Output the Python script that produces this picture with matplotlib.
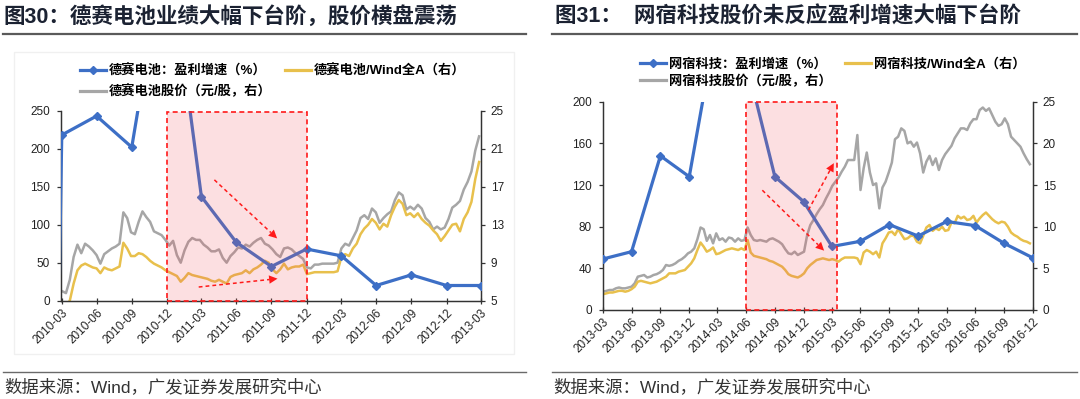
import pandas as pd
import matplotlib
matplotlib.use('Agg')
import matplotlib.pyplot as plt
import matplotlib.transforms as mtrans
from matplotlib.lines import Line2D
from matplotlib.patches import Rectangle
from matplotlib.font_manager import FontProperties

plt.rcParams['font.family'] = ['Liberation Sans', 'Noto Sans CJK SC', 'DejaVu Sans']

# ---------------- 图30 德赛电池 ----------------
left_ticks = ['2010-03', '2010-06', '2010-09', '2010-12', '2011-03', '2011-06', '2011-09',
              '2011-12', '2012-03', '2012-06', '2012-09', '2012-12', '2013-03']
# 盈利增速（%），季度
left_growth_q = ['2009-12'] + left_ticks
left_growth = [-2500, 218, 243, 202, 480, 137, 77, 45, 68, 59, 20, 34, 20, 20]
# 股价 与 相对Wind全A，每10天取一个点，从2010-04-01开始
left_price = [6.0, 5.8, 7.2, 9.6, 10.9, 10.0, 11.0, 10.7, 10.3, 9.8,
              8.9, 9.9, 10.2, 10.5, 10.7, 11.0, 14.3, 13.7, 12.2, 12.0,
              13.3, 14.4, 13.8, 13.3, 12.3, 12.1, 11.9, 11.4, 10.8, 11.3,
              9.8, 9.0, 10.3, 11.2, 11.6, 11.4, 11.4, 10.9, 10.6, 10.2,
              10.2, 10.4, 9.5, 9.0, 9.7, 10.1, 10.6, 10.5, 10.9, 10.7,
              11.1, 11.4, 11.6, 11.0, 10.8, 10.4, 9.9, 9.6, 10.5, 10.6,
              10.4, 10.0, 9.7, 9.4, 8.5, 8.4, 8.8, 8.8, 8.9, 8.9,
              8.9, 8.9, 9.0, 10.5, 11.0, 10.8, 11.6, 12.4, 13.7, 14.0,
              13.6, 14.7, 14.3, 13.2, 13.7, 14.1, 14.4, 15.6, 16.4, 16.1,
              14.6, 14.9, 14.6, 15.1, 14.7, 13.7, 13.3, 12.5, 12.8, 12.5,
              12.7, 13.6, 14.8, 15.1, 15.5, 16.7, 17.5, 18.6, 20.8, 22.3]
left_rel = [4.6, 4.5, 5.0, 6.8, 8.2, 8.7, 8.9, 8.7, 8.5, 8.4,
            7.9, 8.5, 8.3, 8.2, 8.4, 8.6, 11.1, 10.5, 9.7, 9.7,
            10.0, 9.9, 9.6, 9.2, 8.9, 8.7, 8.5, 8.2, 8.0, 7.8,
            7.6, 7.0, 7.4, 7.9, 7.7, 7.6, 7.5, 7.4, 7.3, 7.1,
            7.0, 7.2, 7.0, 6.8, 7.5, 7.7, 7.8, 7.9, 8.2, 7.9,
            8.3, 8.5, 8.8, 9.2, 9.0, 8.3, 7.9, 8.3, 8.9, 8.3,
            8.5, 8.6, 8.6, 8.8, 7.8, 7.9, 8.0, 8.0, 8.0, 8.0,
            8.0, 8.0, 8.1, 9.6, 9.9, 9.7, 10.5, 11.0, 12.0, 12.6,
            13.0, 13.6, 13.2, 12.5, 13.1, 12.8, 14.0, 14.9, 15.6, 15.2,
            14.0, 14.2, 13.8, 14.2, 13.6, 13.2, 12.9, 12.4, 12.0, 11.3,
            11.8, 12.4, 13.0, 13.1, 12.3, 13.6, 14.3, 15.4, 17.8, 19.6]
left_box = ('2010-12-31', '2011-12-31', 248)
left_arrows = [(('2011-05-04', 159), ('2011-10-15', 82)),
               (('2011-03-24', 18), ('2011-10-16', 29))]

# ---------------- 图31 网宿科技 ----------------
right_ticks = ['2013-03', '2013-06', '2013-09', '2013-12', '2014-03', '2014-06', '2014-09',
               '2014-12', '2015-03', '2015-06', '2015-09', '2015-12', '2016-03', '2016-06',
               '2016-09', '2016-12']
right_growth_q = right_ticks
right_growth = [49, 56, 148, 128, 280, 240, 128, 104, 61, 66, 82, 71, 85, 81, 64, 50]
# 每10天取一个点，从2013-04-01开始
right_price = [2.2, 2.3, 2.4, 2.4, 2.6, 2.7, 2.6, 2.6, 2.7, 2.8,
               3.2, 4.0, 4.1, 4.2, 3.9, 4.0, 4.2, 4.3, 4.5, 4.8,
               5.4, 5.3, 5.4, 5.6, 5.9, 6.1, 6.4, 6.8, 7.0, 7.4,
               8.5, 9.9, 9.7, 8.3, 9.0, 8.0, 9.2, 8.4, 8.6, 8.2,
               8.7, 8.6, 8.2, 8.6, 8.3, 8.4, 9.9, 9.0, 8.4, 8.3,
               8.4, 8.3, 8.2, 8.5, 8.6, 8.4, 8.2, 7.9, 7.3, 6.8,
               6.7, 7.0, 6.6, 6.8, 7.0, 9.0, 10.2, 10.8, 11.5, 12.1,
               12.6, 13.4, 14.1, 14.9, 15.4, 15.9, 16.6, 17.2, 18.0, 18.0,
               18.0, 21.0, 14.4, 17.0, 18.9, 16.5, 15.0, 15.2, 12.2, 14.7,
               15.4, 16.5, 17.7, 20.5, 20.8, 21.8, 21.5, 20.0, 20.2, 19.6,
               20.1, 18.8, 16.5, 17.8, 18.5, 17.4, 18.2, 16.8, 18.0, 18.7,
               19.2, 19.7, 20.6, 21.2, 21.8, 21.8, 21.6, 22.4, 22.9, 22.9,
               24.0, 24.3, 23.9, 24.2, 23.4, 22.6, 22.1, 22.3, 23.0, 22.3,
               20.8, 20.4, 20.0, 19.6, 18.8, 18.1, 17.5]
right_rel = [1.9, 2.0, 2.1, 2.1, 2.2, 2.3, 2.3, 2.2, 2.3, 2.5,
             2.8, 3.4, 3.5, 3.4, 3.3, 3.2, 3.3, 3.4, 3.6, 3.8,
             4.0, 4.4, 4.4, 4.4, 4.6, 4.7, 4.8, 5.2, 5.6, 6.2,
             7.2, 8.1, 7.6, 7.0, 7.2, 7.5, 6.7, 6.8, 7.0, 7.2,
             7.3, 7.4, 7.3, 7.2, 7.4, 7.2, 8.4, 6.9, 6.5, 6.4,
             6.3, 6.2, 6.1, 5.9, 5.8, 5.6, 5.4, 5.2, 4.8, 4.3,
             4.1, 4.0, 3.9, 4.1, 4.4, 5.0, 5.4, 5.7, 6.0, 6.1,
             6.2, 6.1, 6.0, 6.1, 6.0, 5.8, 6.1, 6.3, 6.3, 6.3,
             6.3, 6.2, 5.5, 6.9, 7.2, 7.0, 6.7, 7.0, 6.3, 8.0,
             8.6, 9.3, 9.4, 9.0, 9.7, 9.1, 8.5, 8.6, 8.9, 8.9,
             8.2, 8.0, 8.9, 9.9, 10.2, 9.5, 9.8, 9.6, 10.0, 9.5,
             9.6, 10.5, 10.4, 11.3, 11.0, 11.2, 10.8, 10.9, 11.3, 10.5,
             11.0, 11.4, 11.7, 11.3, 10.9, 10.6, 10.4, 10.6, 10.5, 10.0,
             9.3, 9.0, 8.8, 8.5, 8.3, 8.2, 8.0]
right_box = ('2014-06-30', '2015-04-15', 200)
right_arrows = [(('2014-08-21', 115), ('2015-03-06', 57)),
                (('2015-01-15', 96), ('2015-04-06', 141))]

BLUE = '#3d6fc6'
GOLD = '#e8c04c'
GREY = '#a6a6a6'
RED = '#ff1a1a'
W, H = 1080, 399

fig = plt.figure(figsize=(W / 100, H / 100), dpi=100)


def rect(x0, y0, x1, y1):
    return [x0 / W, 1 - y1 / H, (x1 - x0) / W, (y1 - y0) / H]


def qend(labels):
    return [pd.Timestamp(s) + pd.offsets.MonthEnd(0) for s in labels]


def panel(box_px, ticks, gq, growth, start, price, rel, ylim_l, yticks_l, ylim_r, yticks_r,
          box, arrows, xstart):
    ax = fig.add_axes(rect(*box_px))
    ax2 = ax.twinx()
    ax.set_zorder(ax2.get_zorder() + 1)
    ax.patch.set_visible(False)

    d = pd.date_range(start, periods=len(price), freq='10D')
    ax2.plot(d, price, color=GREY, lw=1.8)
    ax2.plot(d, rel, color=GOLD, lw=1.8)
    ax.plot(qend(gq), growth, color=BLUE, lw=2.3, marker='D', ms=4, zorder=3)

    tpos = qend(ticks)
    ax.set_xlim(pd.Timestamp(xstart), tpos[-1])
    ax.set_ylim(*ylim_l)
    ax.set_yticks(yticks_l)
    ax2.set_ylim(*ylim_r)
    ax2.set_yticks(yticks_r)
    ax.set_xticks(tpos)
    ax.set_xticklabels(ticks, rotation=45, ha='right', va='top', rotation_mode='anchor')
    off = mtrans.ScaledTranslation(4 / 72, 0, fig.dpi_scale_trans)
    for lab in ax.get_xticklabels():
        lab.set_transform(lab.get_transform() + off)

    for a in (ax, ax2):
        for s in a.spines.values():
            s.set_color('#333333')
            s.set_linewidth(0.9)
        a.spines['top'].set_visible(False)
    ax.tick_params(axis='x', direction='inout', length=5, width=0.9, color='#333333',
                   labelsize=8.5, labelcolor='#222222', pad=2)
    ax.tick_params(axis='y', direction='out', length=3, width=0.9, color='#333333',
                   labelsize=8.5, labelcolor='#222222', pad=5)
    ax2.tick_params(axis='y', direction='out', length=3, width=0.9, color='#333333',
                    labelsize=8.5, labelcolor='#222222', pad=4)

    # 阴影区间
    x0, x1 = pd.Timestamp(box[0]), pd.Timestamp(box[1])
    ax.fill_between([x0, x1], 0, box[2], color='#f0505a', alpha=0.18, lw=0, zorder=5)
    ax.add_patch(Rectangle((x0, 0), x1 - x0, box[2], fill=False, edgecolor=RED, lw=1.2,
                           linestyle=(0, (3, 2)), zorder=6, clip_on=False))
    for (sa, va), (sb, vb) in arrows:
        ta, tb = pd.Timestamp(sa), pd.Timestamp(sb)
        tm = ta + (tb - ta) * 0.9
        vm = va + (vb - va) * 0.9
        ax.plot([ta, tm], [va, vm], color=RED, lw=1.1, linestyle=(0, (2.5, 2)), zorder=7)
        ax.annotate('', xy=(tb, vb), xytext=(tm, vm),
                    arrowprops=dict(arrowstyle='-|>', color=RED, lw=0.01,
                                    mutation_scale=15, shrinkA=0, shrinkB=0), zorder=7)
    return ax


panel((61, 110.7, 481, 300.7), left_ticks, left_growth_q, left_growth, '2010-04-01',
      left_price, left_rel, (0, 250), range(0, 251, 50), (5, 25), [5, 9, 13, 17, 21, 25],
      left_box, left_arrows, '2010-03-29')
panel((603, 101.7, 1033, 310), right_ticks, right_growth_q, right_growth, '2013-04-01',
      right_price, right_rel, (0, 200), range(0, 201, 40), (0, 25), range(0, 26, 5),
      right_box, right_arrows, '2013-03-31')

# 标题、分隔线、来源
title_font = dict(fontsize=15.5, fontweight='bold', color='#1b2232', va='center')
fig.text(3 / W, 1 - 17 / H, '图30：德赛电池业绩大幅下台阶，股价横盘震荡', **title_font)
fig.text(555 / W, 1 - 17 / H, '图31：  网宿科技股价未反应盈利增速大幅下台阶', **title_font)
for x0, x1 in [(3, 526), (552, 1077)]:
    fig.add_artist(Line2D([x0 / W, x1 / W], [1 - 33.5 / H] * 2, color='#5a5a5a', lw=1.6))
    fig.add_artist(Line2D([x0 / W, x1 / W], [1 - 371.5 / H] * 2, color='#6a6a6a', lw=1.0))
    fig.text((x0 + 1) / W, 1 - 387 / H, '数据来源：Wind，广发证券发展研究中心',
             fontsize=12.5, color='#333333', va='center')

fig.add_artist(Rectangle((14 / W, 1 - 354 / H), 500 / W, 302 / H, transform=fig.transFigure,
                         fill=False, edgecolor='#f0f0f0', lw=1))

# 图例
leg_font = FontProperties(family=['Liberation Sans', 'Noto Sans CJK SC'], weight='bold', size=9.5)
for name, x, y, gap in [('德赛电池', 80, 64, 0.55), ('网宿科技', 640, 58, 0.3)]:
    handles = [Line2D([], [], color=BLUE, lw=2.3, marker='D', ms=4),
               Line2D([], [], color=GREY, lw=2.3),
               Line2D([], [], color=GOLD, lw=2.3)]
    labels = [name + '：盈利增速（%）', name + '股价（元/股，右）', name + '/Wind全A（右）']
    fig.legend(handles, labels, loc='upper left', bbox_to_anchor=(x / W, 1 - y / H),
               ncol=2, frameon=False, prop=leg_font, handlelength=2.0, handletextpad=0.2,
               columnspacing=1.0, labelspacing=gap, borderpad=0, borderaxespad=0)

fig.savefig('out.png', dpi=100)
